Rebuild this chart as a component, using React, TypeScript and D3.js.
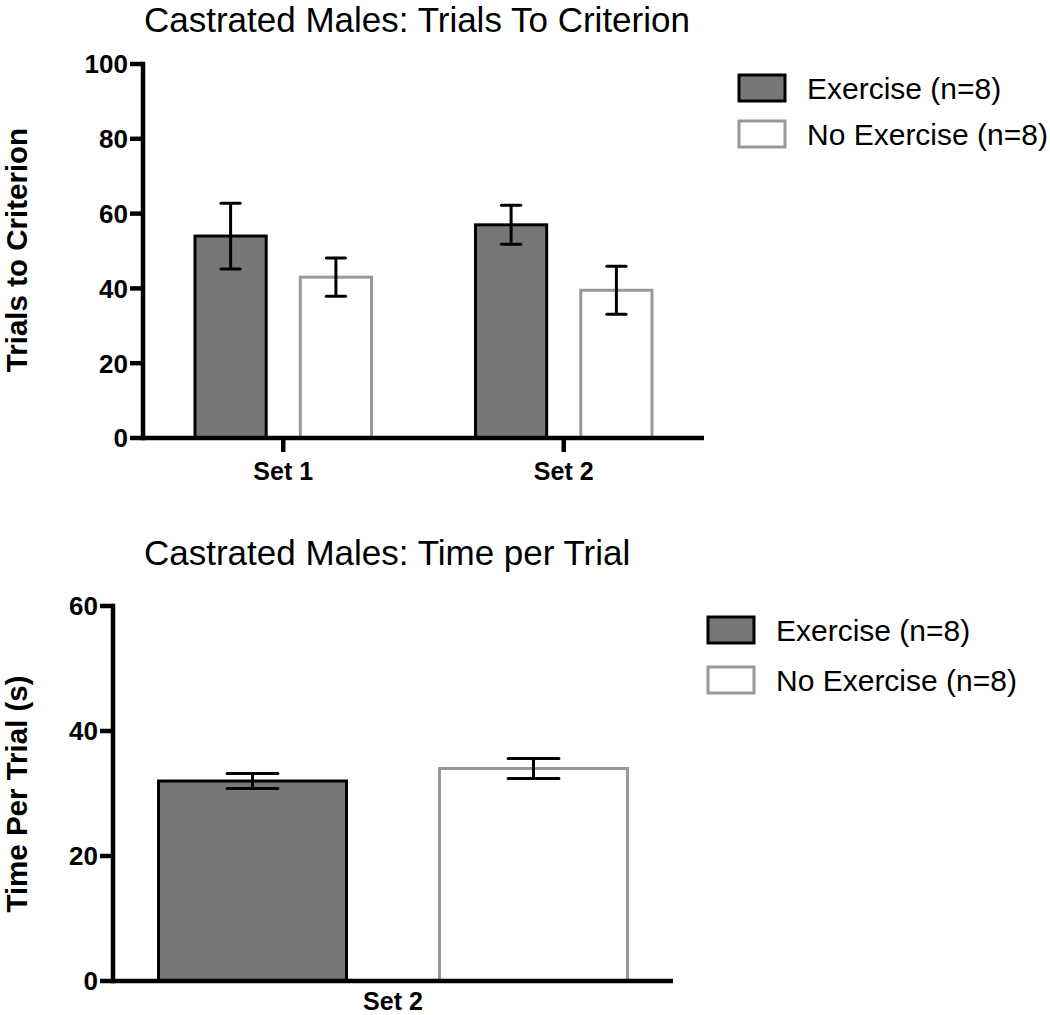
import React, { useEffect } from "react";
import * as d3 from "d3";

// ---------- data ----------
const topCategories = ["Set 1", "Set 2"];
const seriesNames = ["Exercise (n=8)", "No Exercise (n=8)"];
const trialsExercise = [54, 57];
const trialsExerciseSem = [8.8, 5.2];
const trialsNoExercise = [43, 39.5];
const trialsNoExerciseSem = [5.1, 6.4];
const topYTicks = [0, 20, 40, 60, 80, 100];

const bottomCategories = ["Set 2"];
const timeExercise = [32];
const timeExerciseSem = [1.2];
const timeNoExercise = [34];
const timeNoExerciseSem = [1.6];
const bottomYTicks = [0, 20, 40, 60];

const topTitle = "Castrated Males: Trials To Criterion";
const bottomTitle = "Castrated Males: Time per Trial";
const topYLabel = "Trials to Criterion";
const bottomYLabel = "Time Per Trial (s)";

// ---------- styles ----------
const FONT = "'Liberation Sans', Arial, Helvetica, sans-serif";
const seriesFill = ["#777777", "#ffffff"];
const seriesStroke = ["#000000", "#999999"];
const AXIS_W = 4.5;

type PanelProps = {
  categories: string[];
  ex: number[];
  exSem: number[];
  nx: number[];
  nxSem: number[];
  ticks: number[];
  yMax: number;
  x0: number;
  x1: number;
  yTop: number;
  yBottom: number;
  outerPad: number;
  innerPad: number;
  showXTicks: boolean;
  xLabelY: number;
  title: string;
  titleX: number;
  titleY: number;
  yLabel: string;
  yLabelCenter: number;
  legendX: number;
  legendY: number;
  legendGap: number;
};

function Panel(p: PanelProps) {
  const x = d3.scaleBand<string>().domain(p.categories).range([p.x0, p.x1]).padding(0);
  const inner = d3
    .scaleBand<string>()
    .domain(seriesNames)
    .range([0, x.bandwidth()])
    .paddingInner(p.innerPad)
    .paddingOuter(p.outerPad);
  const y = d3.scaleLinear().domain([0, p.yMax]).range([p.yBottom, p.yTop]);
  const values = [p.ex, p.nx];
  const sems = [p.exSem, p.nxSem];
  const bw = inner.bandwidth();
  const capW = bw * 0.27;

  return (
    <g>
      <text x={p.titleX} y={p.titleY} fontFamily={FONT} fontSize={35} fill="#000">
        {p.title}
      </text>
      {/* bars */}
      {p.categories.map((c, ci) =>
        seriesNames.map((s, si) => {
          const v = values[si][ci];
          const e = sems[si][ci];
          const bx = (x(c) as number) + (inner(s) as number);
          const cx = bx + bw / 2;
          return (
            <g key={c + s}>
              <rect
                x={bx}
                y={y(v)}
                width={bw}
                height={y(0) - y(v)}
                fill={seriesFill[si]}
                stroke={seriesStroke[si]}
                strokeWidth={3}
              />
              <line x1={cx} x2={cx} y1={y(v - e)} y2={y(v + e)} stroke="#000" strokeWidth={3} />
              <line x1={cx - capW / 2} x2={cx + capW / 2} y1={y(v + e)} y2={y(v + e)} stroke="#000" strokeWidth={3} strokeLinecap="round" />
              <line x1={cx - capW / 2} x2={cx + capW / 2} y1={y(v - e)} y2={y(v - e)} stroke="#000" strokeWidth={3} strokeLinecap="round" />
            </g>
          );
        })
      )}
      {/* y axis */}
      <line x1={p.x0} x2={p.x0} y1={y(p.yMax) - AXIS_W / 2} y2={y(0) + AXIS_W / 2} stroke="#000" strokeWidth={AXIS_W} />
      {p.ticks.map((t) => (
        <g key={t}>
          <line x1={p.x0 - 13} x2={p.x0} y1={y(t)} y2={y(t)} stroke="#000" strokeWidth={AXIS_W} />
          <text
            x={p.x0 - 15}
            y={y(t)}
            dy="0.36em"
            textAnchor="end"
            fontFamily={FONT}
            fontWeight="bold"
            fontSize={26}
            fill="#000"
          >
            {t}
          </text>
        </g>
      ))}
      {/* x axis */}
      <line x1={p.x0} x2={p.x1} y1={y(0)} y2={y(0)} stroke="#000" strokeWidth={AXIS_W} />
      {p.categories.map((c) => {
        const cx = (x(c) as number) + x.bandwidth() / 2;
        return (
          <g key={c}>
            {p.showXTicks && (
              <line x1={cx} x2={cx} y1={y(0)} y2={y(0) + 14} stroke="#000" strokeWidth={AXIS_W} />
            )}
            <text x={cx} y={p.xLabelY} textAnchor="middle" fontFamily={FONT} fontWeight="bold" fontSize={25} fill="#000">
              {c}
            </text>
          </g>
        );
      })}
      {/* y label */}
      <text
        transform={`translate(27,${p.yLabelCenter}) rotate(-90)`}
        textAnchor="middle"
        fontFamily={FONT}
        fontWeight="bold"
        fontSize={29.5}
        fill="#000"
      >
        {p.yLabel}
      </text>
      {/* legend */}
      {seriesNames.map((s, si) => (
        <g key={s} transform={`translate(${p.legendX},${p.legendY + si * p.legendGap})`}>
          <rect x={0} y={0} width={46} height={26} fill={seriesFill[si]} stroke={seriesStroke[si]} strokeWidth={3} />
          <text x={68} y={13} dy="0.36em" fontFamily={FONT} fontSize={30} fill="#000">
            {s}
          </text>
        </g>
      ))}
    </g>
  );
}

export default function App() {
  useEffect(() => {
    document.body.style.margin = "0";
  }, []);
  return (
    <svg width={1050} height={1015} style={{ display: "block", background: "#fff" }}>
      <rect width={1050} height={1015} fill="#fff" />
      <Panel
        categories={topCategories}
        ex={trialsExercise}
        exSem={trialsExerciseSem}
        nx={trialsNoExercise}
        nxSem={trialsNoExerciseSem}
        ticks={topYTicks}
        yMax={100}
        x0={143}
        x1={704}
        yTop={64}
        yBottom={438}
        innerPad={0.324}
        outerPad={0.494}
        showXTicks={true}
        xLabelY={480}
        title={topTitle}
        titleX={144}
        titleY={32}
        yLabel={topYLabel}
        yLabelCenter={250}
        legendX={739}
        legendY={75}
        legendGap={46}
      />
      <Panel
        categories={bottomCategories}
        ex={timeExercise}
        exSem={timeExerciseSem}
        nx={timeNoExercise}
        nxSem={timeNoExerciseSem}
        ticks={bottomYTicks}
        yMax={60}
        x0={113}
        x1={673}
        yTop={606}
        yBottom={981}
        innerPad={0.331}
        outerPad={0.162}
        showXTicks={false}
        xLabelY={1010}
        title={bottomTitle}
        titleX={144}
        titleY={565}
        yLabel={bottomYLabel}
        yLabelCenter={794}
        legendX={708}
        legendY={617}
        legendGap={50}
      />
    </svg>
  );
}
